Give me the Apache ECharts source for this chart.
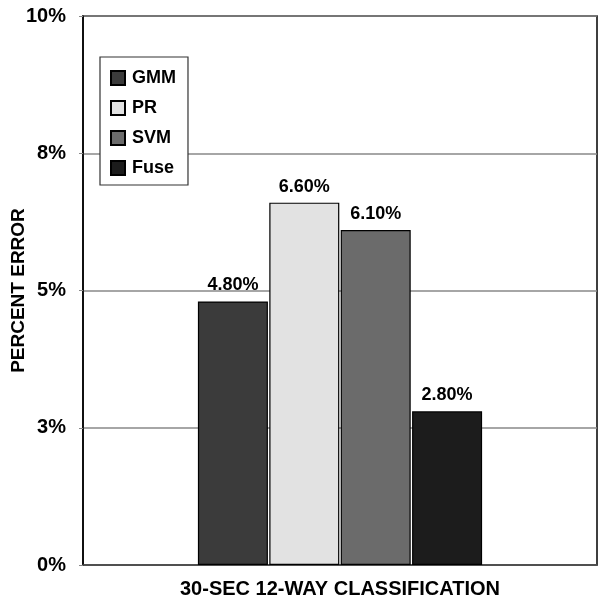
<!DOCTYPE html>
<html><head><meta charset="utf-8">
<script src="https://cdn.jsdelivr.net/npm/echarts@6/dist/echarts.min.js"></script>
<style>html,body{margin:0;padding:0;background:#fff}#c{width:600px;height:602px}</style>
</head><body><div id="c"></div>
<script>
const categories = ['30-SEC 12-WAY CLASSIFICATION'];
const seriesNames = ['GMM', 'PR', 'SVM', 'Fuse'];
const gmm = [4.8];
const pr = [6.6];
const svm = [6.1];
const fuse = [2.8];
const yTickValues = [0, 2.5, 5, 7.5, 10];
const yTickLabels = ['0%', '3%', '5%', '8%', '10%'];

const colors = ['#3b3b3b', '#e2e2e2', '#6b6b6b', '#1c1c1c'];
const values = [gmm, pr, svm, fuse];
const font = 'Liberation Sans, Arial, sans-serif';

const chart = echarts.init(document.getElementById('c'));
chart.setOption({
  animation: false,
  textStyle: { fontFamily: font },
  grid: { left: 83, right: 3, top: 16, bottom: 37, show: true, borderColor: '#000', borderWidth: 1.5, containLabel: false, outerBoundsMode: 'none' },
  legend: {
    orient: 'vertical', left: 100, top: 57,
    data: seriesNames,
    itemWidth: 14, itemHeight: 14, itemGap: 12,
    padding: [12, 12, 8, 10],
    borderColor: '#333', borderWidth: 1.2,
    backgroundColor: '#fff',
    icon: 'rect',
    textStyle: { fontFamily: font, fontWeight: 'bold', fontSize: 18, color: '#000', padding: [0, 0, 0, 2] }
  },
  xAxis: {
    type: 'category', data: categories,
    axisLine: { lineStyle: { color: '#444', width: 1.5 } },
    axisTick: { show: false },
    axisLabel: { color: '#000', fontWeight: 'bold', fontSize: 20, margin: 14, fontFamily: font }
  },
  yAxis: {
    type: 'value', min: 0, max: 10, interval: 2.5,
    name: 'PERCENT ERROR', nameLocation: 'middle', nameGap: 55, nameRotate: 90, nameMoveOverlap: false,
    nameTextStyle: { color: '#000', fontWeight: 'bold', fontSize: 19, fontFamily: font },
    axisLine: { show: true, lineStyle: { color: '#000', width: 1.5 } },
    axisTick: { show: true, length: 4, lineStyle: { color: '#888' } },
    splitLine: { lineStyle: { color: '#888', width: 1.5 } },
    axisLabel: {
      color: '#000', fontWeight: 'bold', fontSize: 20, margin: 17, fontFamily: font,
      formatter: function (v) { const i = yTickValues.indexOf(v); return i >= 0 ? yTickLabels[i] : ''; }
    }
  },
  series: seriesNames.map((n, i) => ({
    name: n, type: 'bar', data: values[i],
    barWidth: 70, barGap: '2%',
    itemStyle: { color: colors[i], borderColor: '#000', borderWidth: 1.2 },
    label: {
      show: true, position: 'top', distance: 7,
      formatter: p => p.value.toFixed(2) + '%',
      color: '#000', fontWeight: 'bold', fontSize: 18, fontFamily: font
    }
  }))
});
</script></body></html>
